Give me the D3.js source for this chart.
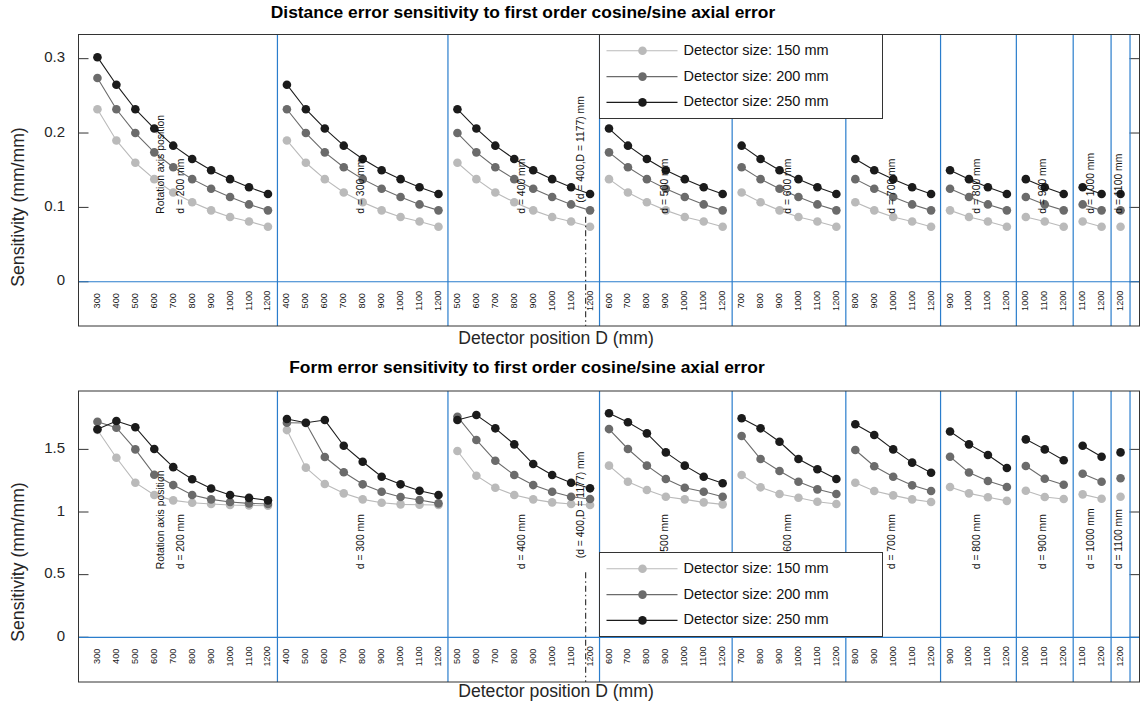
<!DOCTYPE html>
<html>
<head>
<meta charset="utf-8">
<script src="https://cdn.jsdelivr.net/npm/d3@7"></script>
<style>
  body { margin: 0; background: #fff; }
  svg { display: block; font-family: "Liberation Sans", Arial, Helvetica, sans-serif; }
</style>
</head>
<body>
<div id="chart"></div>
<script>
// detector positions D (mm) and rotation axis positions d (mm)
const detectorPositions = [300, 400, 500, 600, 700, 800, 900, 1000, 1100, 1200];
const rotationAxis = [200, 300, 400, 500, 600, 700, 800, 900, 1000, 1100];
const seriesNames = ["Detector size: 150 mm", "Detector size: 200 mm", "Detector size: 250 mm"];

// distance error sensitivity, by D (same for every d)
const distance150 = [0.232, 0.190, 0.160, 0.138, 0.120, 0.107, 0.096, 0.087, 0.081, 0.074];
const distance200 = [0.274, 0.232, 0.200, 0.174, 0.154, 0.138, 0.125, 0.114, 0.104, 0.096];
const distance250 = [0.302, 0.265, 0.232, 0.206, 0.183, 0.165, 0.150, 0.138, 0.127, 0.118];

// form error sensitivity, one list per d (D from d+100 to 1200)
const form150 = [
  [1.655, 1.433, 1.234, 1.136, 1.093, 1.074, 1.064, 1.056, 1.053, 1.050],
  [1.654, 1.354, 1.223, 1.149, 1.101, 1.074, 1.061, 1.058, 1.056],
  [1.487, 1.290, 1.194, 1.136, 1.101, 1.077, 1.064, 1.056],
  [1.370, 1.242, 1.176, 1.122, 1.101, 1.077, 1.061],
  [1.295, 1.197, 1.144, 1.114, 1.082, 1.064],
  [1.234, 1.168, 1.133, 1.101, 1.080],
  [1.200, 1.149, 1.118, 1.089],
  [1.170, 1.120, 1.104],
  [1.141, 1.106],
  [1.122]
];
const form200 = [
  [1.721, 1.673, 1.500, 1.298, 1.215, 1.136, 1.101, 1.080, 1.069, 1.064],
  [1.713, 1.710, 1.439, 1.317, 1.221, 1.162, 1.120, 1.096, 1.069],
  [1.761, 1.575, 1.409, 1.295, 1.215, 1.162, 1.122, 1.104],
  [1.662, 1.503, 1.370, 1.263, 1.194, 1.162, 1.122],
  [1.607, 1.423, 1.327, 1.242, 1.181, 1.144],
  [1.495, 1.365, 1.282, 1.213, 1.168],
  [1.441, 1.315, 1.248, 1.200],
  [1.367, 1.266, 1.218],
  [1.306, 1.242],
  [1.269]
];
const form250 = [
  [1.660, 1.726, 1.677, 1.503, 1.358, 1.262, 1.188, 1.136, 1.113, 1.093],
  [1.742, 1.713, 1.734, 1.529, 1.401, 1.282, 1.221, 1.170, 1.136],
  [1.734, 1.774, 1.668, 1.540, 1.383, 1.295, 1.234, 1.189],
  [1.788, 1.716, 1.628, 1.476, 1.370, 1.282, 1.229],
  [1.748, 1.668, 1.561, 1.423, 1.341, 1.263],
  [1.700, 1.615, 1.500, 1.394, 1.314],
  [1.643, 1.540, 1.455, 1.351],
  [1.580, 1.500, 1.413],
  [1.529, 1.441],
  [1.476]
];

const distanceTicks = [0, 0.1, 0.2, 0.3];
const formTicks = [0, 0.5, 1, 1.5];
const markedD = 1177;   // dash-dot marker inside d = 400 group

const width = 1143, height = 706;
const colors = ["#bababa", "#6b6b6b", "#1b1b1b"];
const blue = "#2a7dcc";

const svg = d3.select("#chart").append("svg")
  .attr("width", width)
  .attr("height", height);
svg.append("rect").attr("width", width).attr("height", height).attr("fill", "#fff");

// every (d, D) pair gets its own slot along x
let slots = [];
let groupStart = [];
rotationAxis.forEach(function(d, g) {
  groupStart.push(slots.length + 1);
  detectorPositions.filter(function(D) { return D > d; }).forEach(function(D) {
    slots.push({d: d, D: D, g: g, i: slots.length + 1});
  });
});

let x = d3.scaleLinear().domain([0, slots.length + 1]).range([78.5, 1139.5]);

const panels = [
  {
    top: 34.5, bottom: 326, domain: [-0.0595, 0.3325], ticks: distanceTicks,
    title: "Distance error sensitivity to first order cosine/sine axial error",
    titleX: 523, titleY: 18, xlabelY: 344, ylabelY: 207, legendTop: 34.5,
    values: function(s, g) { return [distance150, distance200, distance250][s].slice(g); }
  },
  {
    top: 391, bottom: 682, domain: [-0.357, 1.966], ticks: formTicks,
    title: "Form error sensitivity to first order cosine/sine axial error",
    titleX: 527, titleY: 373, xlabelY: 697, ylabelY: 562, legendTop: 552.5,
    values: function(s, g) { return [form150, form200, form250][s][g]; }
  }
];

panels.forEach(function(p) {
  let y = d3.scaleLinear().domain(p.domain).range([p.bottom, p.top]);
  let x0 = x.range()[0], x1 = x.range()[1];
  let zero = y(0);
  let panel = svg.append("g");

  // ticks on both sides, pointing inwards
  p.ticks.forEach(function(t) {
    panel.append("line").attr("x1", x0).attr("x2", x0 + 10)
      .attr("y1", y(t)).attr("y2", y(t)).attr("stroke", "#333");
    panel.append("line").attr("x1", x1 - 10).attr("x2", x1)
      .attr("y1", y(t)).attr("y2", y(t)).attr("stroke", "#333");
    panel.append("text")
      .attr("x", 65).attr("y", y(t) - 2)
      .attr("text-anchor", "end")
      .attr("dominant-baseline", "central")
      .attr("font-size", "15px")
      .attr("fill", "#262626")
      .text(String(t));
  });

  // group separators and zero line
  let seps = groupStart.slice(1).map(function(s) { return s - 0.5; });
  seps.push(slots.length + 0.5);
  seps.forEach(function(s) {
    panel.append("line").attr("x1", x(s)).attr("x2", x(s))
      .attr("y1", p.top).attr("y2", p.bottom)
      .attr("stroke", blue).attr("stroke-width", 1.2);
  });
  panel.append("line").attr("x1", x0).attr("x2", x1)
    .attr("y1", zero).attr("y2", zero)
    .attr("stroke", blue).attr("stroke-width", 1.2);

  // data: one line per group and detector size
  let line = d3.line()
    .x(function(d) { return x(d.i); })
    .y(function(d) { return y(d.v); });

  [0, 1, 2].forEach(function(s) {
    rotationAxis.forEach(function(d, g) {
      let vals = p.values(s, g);
      let pts = vals.map(function(v, k) { return {i: groupStart[g] + k, v: v}; });
      panel.append("path")
        .datum(pts)
        .attr("fill", "none")
        .attr("stroke", colors[s])
        .attr("stroke-width", 1.1)
        .attr("d", line);
      panel.selectAll(null)
        .data(pts)
        .enter().append("circle")
        .attr("cx", function(d) { return x(d.i); })
        .attr("cy", function(d) { return y(d.v); })
        .attr("r", 4.3)
        .attr("fill", colors[s]);
    });
  });

  // rotated D tick labels below the zero line
  panel.selectAll(null)
    .data(slots)
    .enter().append("text")
    .attr("transform", function(d) { return `translate(${x(d.i) - 0.5}, ${zero + 19}) rotate(-90)`; })
    .attr("text-anchor", "middle")
    .attr("dominant-baseline", "central")
    .attr("font-size", "9.2px")
    .attr("fill", "#1a1a1a")
    .text(function(d) { return d.D; });

  // d annotations
  rotationAxis.forEach(function(d, g) {
    let n = detectorPositions.filter(function(D) { return D > d; }).length;
    let cx = x(groupStart[g] + (n - 1) / 2) - 1.8;
    panel.append("text")
      .attr("transform", `translate(${cx}, ${zero - 68}) rotate(-90)`)
      .attr("dominant-baseline", "central")
      .attr("font-size", "10.4px")
      .attr("fill", "#111")
      .text("d = " + d + " mm");
    if (g == 0) {
      panel.append("text")
        .attr("transform", `translate(${cx - 20}, ${zero - 68}) rotate(-90)`)
        .attr("dominant-baseline", "central")
        .attr("font-size", "10.4px")
        .attr("fill", "#111")
        .text("Rotation axis position");
    }
  });

  // dash-dot marker at D = 1177 for d = 400
  let g400 = rotationAxis.indexOf(400);
  let k = detectorPositions.filter(function(D) { return D > 400 && D < markedD; }).length;
  let lx = x(groupStart[g400] + k - 1 + (markedD - 1100) / 100);
  panel.append("line")
    .attr("x1", lx).attr("x2", lx)
    .attr("y1", zero - 65).attr("y2", p.bottom)
    .attr("stroke", "#111").attr("stroke-width", 1)
    .attr("stroke-dasharray", "6,3,1.5,3");
  panel.append("text")
    .attr("transform", `translate(${lx - 5.5}, ${zero - 79}) rotate(-90)`)
    .attr("dominant-baseline", "central")
    .attr("font-size", "10.4px")
    .attr("fill", "#111")
    .text("(d = 400,D = " + markedD + ") mm");

  // frame
  panel.append("rect")
    .attr("x", x0).attr("y", p.top)
    .attr("width", x1 - x0).attr("height", p.bottom - p.top)
    .attr("fill", "none").attr("stroke", "#333");

  // titles and labels
  panel.append("text")
    .attr("x", p.titleX).attr("y", p.titleY)
    .attr("text-anchor", "middle")
    .attr("font-weight", "bold")
    .attr("font-size", "17.4px")
    .attr("fill", "#000")
    .text(p.title);
  panel.append("text")
    .attr("x", 556).attr("y", p.xlabelY)
    .attr("text-anchor", "middle")
    .attr("font-size", "17.6px")
    .attr("fill", "#262626")
    .text("Detector position D (mm)");
  panel.append("text")
    .attr("transform", `translate(18, ${p.ylabelY}) rotate(-90)`)
    .attr("text-anchor", "middle")
    .attr("dominant-baseline", "central")
    .attr("font-size", "17.6px")
    .attr("fill", "#262626")
    .text("Sensitivity (mm/mm)");

  // legend
  let legend = panel.append("g").attr("transform", `translate(599.5, ${p.legendTop})`);
  legend.append("rect")
    .attr("width", 283).attr("height", 84)
    .attr("fill", "#fff").attr("stroke", "#333");
  seriesNames.forEach(function(name, s) {
    let ly = 16.3 + s * 25.8;
    legend.append("line").attr("x1", 7).attr("x2", 78)
      .attr("y1", ly).attr("y2", ly)
      .attr("stroke", colors[s]).attr("stroke-width", 1.1);
    legend.append("circle").attr("cx", 43).attr("cy", ly).attr("r", 4.3).attr("fill", colors[s]);
    legend.append("text")
      .attr("x", 84).attr("y", ly - 1)
      .attr("dominant-baseline", "central")
      .attr("font-size", "14.5px")
      .attr("fill", "#111")
      .text(name);
  });
});
</script>
</body>
</html>
